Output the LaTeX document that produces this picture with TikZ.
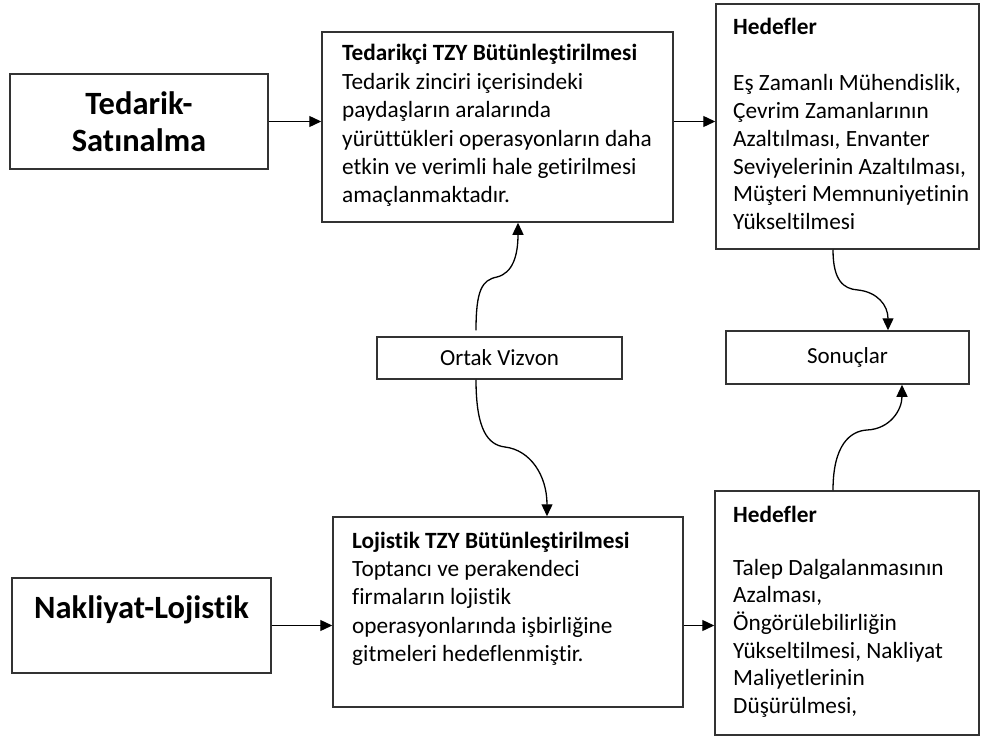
\documentclass[tikz,border=0pt]{standalone}
\usepackage{fontspec}
\setmainfont{Carlito}[RawFeature={-liga;-clig;-dlig;-calt}]
\usetikzlibrary{arrows.meta}
\begin{document}
\begin{tikzpicture}[x=1pt,y=-1pt,
  box/.style={draw=black!80, line width=1.5pt, fill=white, inner sep=0pt},
  flow/.style={draw=black, line width=1.3pt, -{Triangle[length=12pt,width=11pt]}},
  txt/.style={inner sep=0pt, anchor=base west, font=\fontsize{23.3}{28.4}\selectfont},
  txtb/.style={inner sep=0pt, anchor=base west, font=\fontsize{23.3}{27.7}\selectfont},
  big/.style={inner sep=0pt, anchor=base, font=\fontsize{32.5}{37}\selectfont\bfseries},
  small/.style={font=\fontsize{23}{28}\selectfont}
]
\useasboundingbox (0,0) rectangle (981,738);

% ---- boxes ----
\node[box, minimum width=258pt, minimum height=95pt]  (ts) at (139,121.5) {};
\node[box, minimum width=351pt, minimum height=190pt] (tt) at (497.5,127) {};
\node[box, minimum width=263pt, minimum height=245pt] (h1) at (847.5,126.5) {};
\node[box, minimum width=243pt, minimum height=53pt, small] (so) at (847.5,357.5) {Sonuçlar};
\node[box, minimum width=245pt, minimum height=42pt, small] (ov) at (499.5,358) {Ortak Vizvon};
\node[box, minimum width=350pt, minimum height=190pt] (lt) at (508,612) {};
\node[box, minimum width=259pt, minimum height=95pt]  (nl) at (141.5,625.5) {};
\node[box, minimum width=264pt, minimum height=244pt] (h2) at (847,613) {};

% ---- texts ----
\node[big] (tsl) at (139,115) {\begin{tabular}[t]{@{}c@{}}Tedarik-\\Satınalma\end{tabular}};
\node[big] (nll) at (141.5,618) {Nakliyat-Lojistik};

\node[txt] (ttl) at (342,61) {\begin{tabular}[t]{@{}l@{}}\textbf{Tedarikçi TZY Bütünleştirilmesi}\\
Tedarik zinciri içerisindeki\\
paydaşların aralarında\\
yürüttükleri operasyonların daha\\
etkin ve verimli hale getirilmesi\\
amaçlanmaktadır.\end{tabular}};

\node[txt] (ltl) at (352,548) {\begin{tabular}[t]{@{}l@{}}\textbf{Lojistik TZY Bütünleştirilmesi}\\
Toptancı ve perakendeci\\
firmaların lojistik\\
operasyonlarında işbirliğine\\
gitmeleri hedeflenmiştir.\end{tabular}};

\node[txtb] (h1t) at (733,35) {\textbf{Hedefler}};
\node[txtb] (h1l) at (733,91) {\begin{tabular}[t]{@{}l@{}}Eş Zamanlı Mühendislik,\\
Çevrim Zamanlarının\\
Azaltılması, Envanter\\
Seviyelerinin Azaltılması,\\
Müşteri Memnuniyetinin\\
Yükseltilmesi\end{tabular}};

\node[txtb] (h2t) at (733,522) {\textbf{Hedefler}};
\node[txtb] (h2l) at (733,575) {\begin{tabular}[t]{@{}l@{}}Talep Dalgalanmasının\\
Azalması,\\
Öngörülebilirliğin\\
Yükseltilmesi, Nakliyat\\
Maliyetlerinin\\
Düşürülmesi,\end{tabular}};

% ---- straight connectors ----
\draw[flow] (ts.east) -- (ts.east -| tt.west);
\draw[flow] (tt.east |- ts.east) -- (h1.west |- ts.east);
\draw[flow] (nl.east) -- (nl.east -| lt.west);
\draw[flow] (lt.east |- nl.east) -- (h2.west |- nl.east);

% ---- curved connectors ----
\draw[flow] ([xshift=-23.5pt,yshift=6pt]ov.north) .. controls (476,290) and (482,280) .. (497,277)
  .. controls (513,273) and (518,255) .. ([xshift=20.5pt]tt.south);
\draw[flow] ([xshift=-23.5pt]ov.south) .. controls (476,430) and (488,445) .. (505,447)
  .. controls (530,450) and (547,475) .. ([xshift=39pt]lt.north);
\draw[flow] ([xshift=-14.5pt]h1.south) .. controls (833,280) and (843,289) .. (858,290)
  .. controls (877,292) and (888,305) .. ([xshift=40.5pt]so.north);
\draw[flow] ([xshift=-14pt]h2.north) .. controls (833,445) and (850,431) .. (867,430)
  .. controls (890,429) and (902,410) .. ([xshift=54.5pt]so.south);
\end{tikzpicture}
\end{document}
